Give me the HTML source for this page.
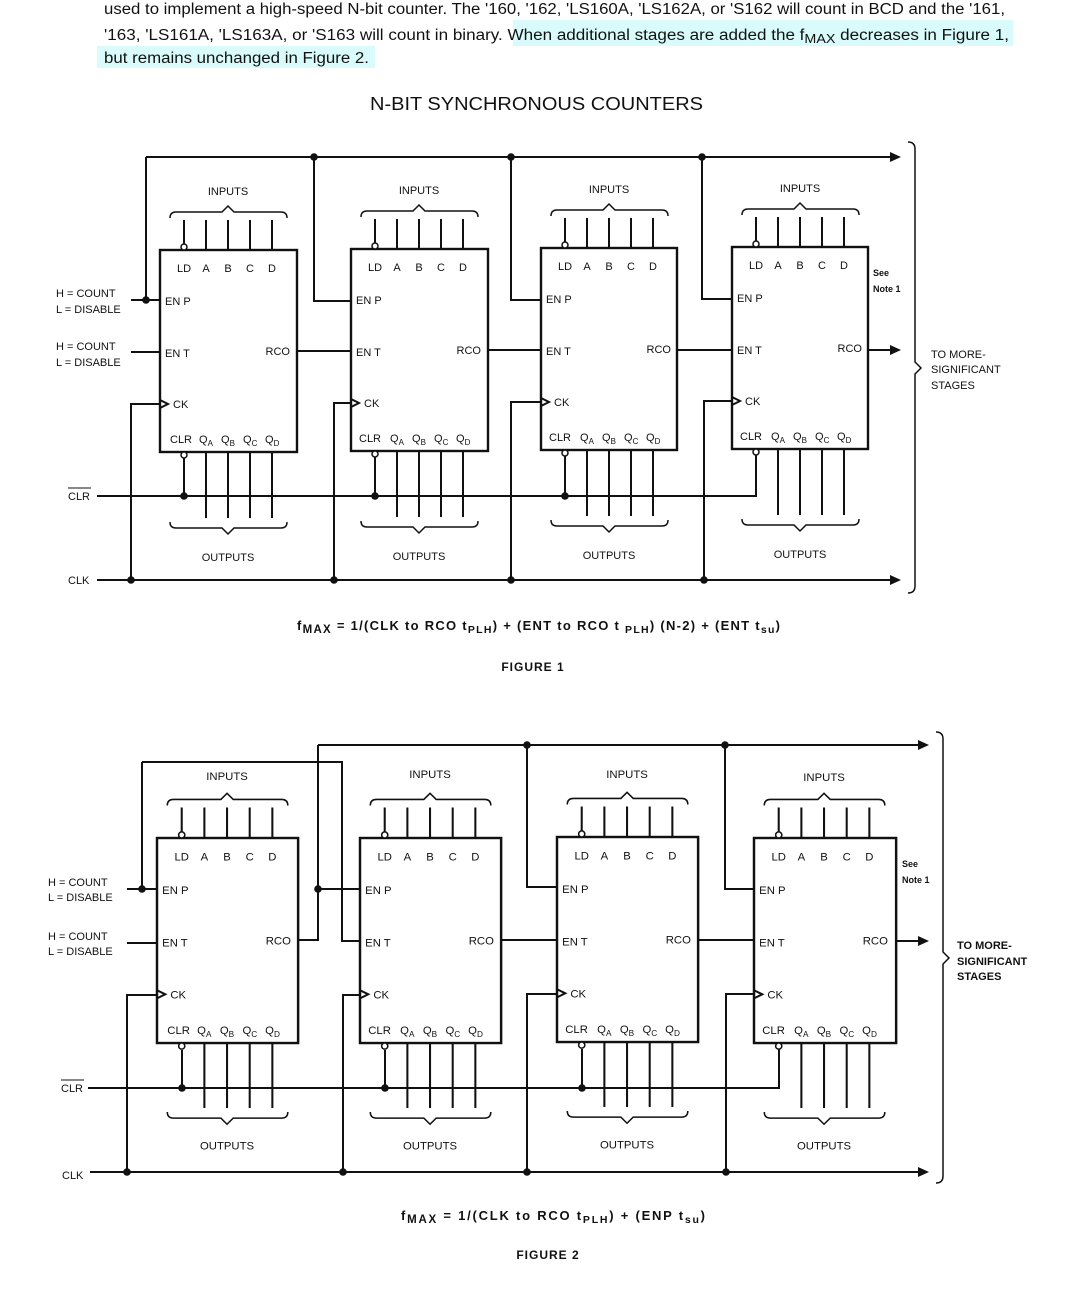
<!DOCTYPE html>
<html><head><meta charset="utf-8"><style>
html,body{margin:0;padding:0;background:#fff;}
svg{display:block;}
text{font-family:"Liberation Sans",sans-serif;fill:#111;}
.w{stroke:#111;stroke-width:2;fill:none;}
.b{stroke:#111;stroke-width:2.4;fill:none;}
.br{stroke:#111;stroke-width:1.5;fill:none;}
.t{font-size:11px;}
.s{font-size:8px;}
</style></head><body>
<svg width="1084" height="1295" viewBox="0 0 1084 1295" xmlns="http://www.w3.org/2000/svg">
<rect x="513" y="20" width="500" height="26" fill="#d9fbfb"/>
<rect x="97" y="46" width="278" height="22" fill="#d9fbfb"/>
<text x="104" y="14" font-size="15.5" textLength="901" lengthAdjust="spacingAndGlyphs">used to implement a high-speed N-bit counter. The '160, '162, 'LS160A, 'LS162A, or 'S162 will count in BCD and the '161,</text>
<text x="104" y="40" font-size="15.5" textLength="905" lengthAdjust="spacingAndGlyphs">'163, 'LS161A, 'LS163A, or 'S163 will count in binary. When additional stages are added the f<tspan font-size="13" dy="3">MAX</tspan><tspan dy="-3"> decreases in Figure 1,</tspan></text>
<text x="104" y="63" font-size="15.5" textLength="265" lengthAdjust="spacingAndGlyphs">but remains unchanged in Figure 2.</text>
<text x="370" y="110" font-size="18" textLength="333" lengthAdjust="spacingAndGlyphs">N-BIT SYNCHRONOUS COUNTERS</text>

<g transform="translate(160,250)">
<rect x="0" y="0" width="137" height="202" class="b"/>
<path class="w" d="M24 -30V-6 M46 -30V0 M68 -30V0 M90 -30V0 M112 -30V0 M46 202V268 M68 202V268 M90 202V268 M112 202V268"/>
<circle cx="24" cy="-3" r="3" fill="#fff" stroke="#111" stroke-width="1.5"/>
<circle cx="24" cy="205" r="3" fill="#fff" stroke="#111" stroke-width="1.5"/>
<path class="br" d="M10 -32 q0 -6 6 -6 H62 l6 -6 l6 6 H121 q6 0 6 6 M10 272 q0 6 6 6 H62 l6 6 l6 -6 H121 q6 0 6 -6"/>
<path class="w" d="M0 150 L8 154 L0 158"/>
<text x="68" y="-55" class="t" text-anchor="middle">INPUTS</text>
<text x="24" y="22" class="t" text-anchor="middle">LD</text><text x="46" y="22" class="t" text-anchor="middle">A</text><text x="68" y="22" class="t" text-anchor="middle">B</text><text x="90" y="22" class="t" text-anchor="middle">C</text><text x="112" y="22" class="t" text-anchor="middle">D</text>
<text x="5" y="55" class="t">EN P</text><text x="5" y="107" class="t">EN T</text><text x="130" y="105" class="t" text-anchor="end">RCO</text><text x="13" y="158" class="t">CK</text>
<text x="10" y="193" class="t">CLR</text>
<text x="39" y="193" class="t">Q<tspan class="s" dy="3">A</tspan></text><text x="61" y="193" class="t">Q<tspan class="s" dy="3">B</tspan></text><text x="83" y="193" class="t">Q<tspan class="s" dy="3">C</tspan></text><text x="105" y="193" class="t">Q<tspan class="s" dy="3">D</tspan></text>
<text x="68" y="311" class="t" text-anchor="middle">OUTPUTS</text>
</g>
<g transform="translate(351,249)">
<rect x="0" y="0" width="137" height="202" class="b"/>
<path class="w" d="M24 -30V-6 M46 -30V0 M68 -30V0 M90 -30V0 M112 -30V0 M46 202V268 M68 202V268 M90 202V268 M112 202V268"/>
<circle cx="24" cy="-3" r="3" fill="#fff" stroke="#111" stroke-width="1.5"/>
<circle cx="24" cy="205" r="3" fill="#fff" stroke="#111" stroke-width="1.5"/>
<path class="br" d="M10 -32 q0 -6 6 -6 H62 l6 -6 l6 6 H121 q6 0 6 6 M10 272 q0 6 6 6 H62 l6 6 l6 -6 H121 q6 0 6 -6"/>
<path class="w" d="M0 150 L8 154 L0 158"/>
<text x="68" y="-55" class="t" text-anchor="middle">INPUTS</text>
<text x="24" y="22" class="t" text-anchor="middle">LD</text><text x="46" y="22" class="t" text-anchor="middle">A</text><text x="68" y="22" class="t" text-anchor="middle">B</text><text x="90" y="22" class="t" text-anchor="middle">C</text><text x="112" y="22" class="t" text-anchor="middle">D</text>
<text x="5" y="55" class="t">EN P</text><text x="5" y="107" class="t">EN T</text><text x="130" y="105" class="t" text-anchor="end">RCO</text><text x="13" y="158" class="t">CK</text>
<text x="8" y="193" class="t">CLR</text>
<text x="39" y="193" class="t">Q<tspan class="s" dy="3">A</tspan></text><text x="61" y="193" class="t">Q<tspan class="s" dy="3">B</tspan></text><text x="83" y="193" class="t">Q<tspan class="s" dy="3">C</tspan></text><text x="105" y="193" class="t">Q<tspan class="s" dy="3">D</tspan></text>
<text x="68" y="311" class="t" text-anchor="middle">OUTPUTS</text>
</g>
<g transform="translate(541,248)">
<rect x="0" y="0" width="136" height="202" class="b"/>
<path class="w" d="M24 -30V-6 M46 -30V0 M68 -30V0 M90 -30V0 M112 -30V0 M46 202V268 M68 202V268 M90 202V268 M112 202V268"/>
<circle cx="24" cy="-3" r="3" fill="#fff" stroke="#111" stroke-width="1.5"/>
<circle cx="24" cy="205" r="3" fill="#fff" stroke="#111" stroke-width="1.5"/>
<path class="br" d="M10 -32 q0 -6 6 -6 H62 l6 -6 l6 6 H121 q6 0 6 6 M10 272 q0 6 6 6 H62 l6 6 l6 -6 H121 q6 0 6 -6"/>
<path class="w" d="M0 150 L8 154 L0 158"/>
<text x="68" y="-55" class="t" text-anchor="middle">INPUTS</text>
<text x="24" y="22" class="t" text-anchor="middle">LD</text><text x="46" y="22" class="t" text-anchor="middle">A</text><text x="68" y="22" class="t" text-anchor="middle">B</text><text x="90" y="22" class="t" text-anchor="middle">C</text><text x="112" y="22" class="t" text-anchor="middle">D</text>
<text x="5" y="55" class="t">EN P</text><text x="5" y="107" class="t">EN T</text><text x="130" y="105" class="t" text-anchor="end">RCO</text><text x="13" y="158" class="t">CK</text>
<text x="8" y="193" class="t">CLR</text>
<text x="39" y="193" class="t">Q<tspan class="s" dy="3">A</tspan></text><text x="61" y="193" class="t">Q<tspan class="s" dy="3">B</tspan></text><text x="83" y="193" class="t">Q<tspan class="s" dy="3">C</tspan></text><text x="105" y="193" class="t">Q<tspan class="s" dy="3">D</tspan></text>
<text x="68" y="311" class="t" text-anchor="middle">OUTPUTS</text>
</g>
<g transform="translate(732,247)">
<rect x="0" y="0" width="136" height="202" class="b"/>
<path class="w" d="M24 -30V-6 M46 -30V0 M68 -30V0 M90 -30V0 M112 -30V0 M46 202V268 M68 202V268 M90 202V268 M112 202V268"/>
<circle cx="24" cy="-3" r="3" fill="#fff" stroke="#111" stroke-width="1.5"/>
<circle cx="24" cy="205" r="3" fill="#fff" stroke="#111" stroke-width="1.5"/>
<path class="br" d="M10 -32 q0 -6 6 -6 H62 l6 -6 l6 6 H121 q6 0 6 6 M10 272 q0 6 6 6 H62 l6 6 l6 -6 H121 q6 0 6 -6"/>
<path class="w" d="M0 150 L8 154 L0 158"/>
<text x="68" y="-55" class="t" text-anchor="middle">INPUTS</text>
<text x="24" y="22" class="t" text-anchor="middle">LD</text><text x="46" y="22" class="t" text-anchor="middle">A</text><text x="68" y="22" class="t" text-anchor="middle">B</text><text x="90" y="22" class="t" text-anchor="middle">C</text><text x="112" y="22" class="t" text-anchor="middle">D</text>
<text x="5" y="55" class="t">EN P</text><text x="5" y="107" class="t">EN T</text><text x="130" y="105" class="t" text-anchor="end">RCO</text><text x="13" y="158" class="t">CK</text>
<text x="8" y="193" class="t">CLR</text>
<text x="39" y="193" class="t">Q<tspan class="s" dy="3">A</tspan></text><text x="61" y="193" class="t">Q<tspan class="s" dy="3">B</tspan></text><text x="83" y="193" class="t">Q<tspan class="s" dy="3">C</tspan></text><text x="105" y="193" class="t">Q<tspan class="s" dy="3">D</tspan></text>
<text x="68" y="311" class="t" text-anchor="middle">OUTPUTS</text>
</g>

<path class="w" d="M146 157 H892 M146 157 V300 M131 300 H160 M314 157 V301 H351 M511 157 V300 H541 M702 157 V299 H732
M131 352 H160 M297 351 H351 M488 350 H541 M677 350 H732 M868 350 H892
M97 580 H892 M131 580 V404 H160 M334 580 V403 H351 M511 580 V402 H541 M704 580 V401 H732
M97 496 H756 V455 M184 458 V496 M375 457 V496 M565 456 V496"/>
<polygon points="890,152 901,157 890,162" fill="#111"/>
<polygon points="890,345 901,350 890,355" fill="#111"/>
<polygon points="890,575 901,580 890,585" fill="#111"/>
<g fill="#111">
<circle cx="146" cy="300" r="3.8"/><circle cx="314" cy="157" r="3.8"/><circle cx="511" cy="157" r="3.8"/><circle cx="702" cy="157" r="3.8"/>
<circle cx="131" cy="580" r="3.8"/><circle cx="334" cy="580" r="3.8"/><circle cx="511" cy="580" r="3.8"/><circle cx="704" cy="580" r="3.8"/>
<circle cx="184" cy="496" r="3.8"/><circle cx="375" cy="496" r="3.8"/><circle cx="565" cy="496" r="3.8"/>
</g>
<path class="br" d="M908 142 q7 0 7 7 V362 l6 6 l-6 6 V586 q0 7 -7 7"/>
<text x="931" y="358" class="t">TO MORE-</text><text x="931" y="373" class="t">SIGNIFICANT</text><text x="931" y="389" class="t">STAGES</text>
<text x="873" y="276" font-size="9" font-weight="bold">See</text><text x="873" y="292" font-size="9" font-weight="bold">Note 1</text>
<text x="56" y="297" class="t">H = COUNT</text><text x="56" y="313" class="t">L = DISABLE</text>
<text x="56" y="350" class="t">H = COUNT</text><text x="56" y="366" class="t">L = DISABLE</text>
<text x="68" y="500" class="t">CLR</text><path d="M68 488 H91" stroke="#111" stroke-width="1"/>
<text x="68" y="584" class="t">CLK</text>
<text x="297" y="630" font-size="13" font-weight="bold" textLength="483" lengthAdjust="spacing">f<tspan font-size="11.5" dy="3">MAX</tspan><tspan dy="-3"> = 1/(CLK to RCO t</tspan><tspan font-size="10.5" dy="3">PLH</tspan><tspan dy="-3">) + (ENT to RCO t </tspan><tspan font-size="10.5" dy="3">PLH</tspan><tspan dy="-3">) (N-2) + (ENT t</tspan><tspan font-size="10.5" dy="3">su</tspan><tspan dy="-3">)</tspan></text>
<text x="533" y="671" font-size="12" font-weight="bold" text-anchor="middle" letter-spacing="1">FIGURE 1</text>

<g transform="translate(157,838) scale(1.03,1.015)">
<rect x="0" y="0" width="137" height="202" class="b"/>
<path class="w" d="M24 -30V-6 M46 -30V0 M68 -30V0 M90 -30V0 M112 -30V0 M46 202V266 M68 202V266 M90 202V266 M112 202V266"/>
<circle cx="24" cy="-3" r="3" fill="#fff" stroke="#111" stroke-width="1.5"/>
<circle cx="24" cy="205" r="3" fill="#fff" stroke="#111" stroke-width="1.5"/>
<path class="br" d="M10 -32 q0 -6 6 -6 H62 l6 -6 l6 6 H121 q6 0 6 6 M10 270 q0 6 6 6 H62 l6 6 l6 -6 H121 q6 0 6 -6"/>
<path class="w" d="M0 150 L8 154 L0 158"/>
<text x="68" y="-57" class="t" text-anchor="middle">INPUTS</text>
<text x="24" y="22" class="t" text-anchor="middle">LD</text><text x="46" y="22" class="t" text-anchor="middle">A</text><text x="68" y="22" class="t" text-anchor="middle">B</text><text x="90" y="22" class="t" text-anchor="middle">C</text><text x="112" y="22" class="t" text-anchor="middle">D</text>
<text x="5" y="55" class="t">EN P</text><text x="5" y="107" class="t">EN T</text><text x="130" y="105" class="t" text-anchor="end">RCO</text><text x="13" y="158" class="t">CK</text>
<text x="10" y="193" class="t">CLR</text>
<text x="39" y="193" class="t">Q<tspan class="s" dy="3">A</tspan></text><text x="61" y="193" class="t">Q<tspan class="s" dy="3">B</tspan></text><text x="83" y="193" class="t">Q<tspan class="s" dy="3">C</tspan></text><text x="105" y="193" class="t">Q<tspan class="s" dy="3">D</tspan></text>
<text x="68" y="307" class="t" text-anchor="middle">OUTPUTS</text>
</g>
<g transform="translate(360,838) scale(1.03,1.015)">
<rect x="0" y="0" width="137" height="202" class="b"/>
<path class="w" d="M24 -30V-6 M46 -30V0 M68 -30V0 M90 -30V0 M112 -30V0 M46 202V266 M68 202V266 M90 202V266 M112 202V266"/>
<circle cx="24" cy="-3" r="3" fill="#fff" stroke="#111" stroke-width="1.5"/>
<circle cx="24" cy="205" r="3" fill="#fff" stroke="#111" stroke-width="1.5"/>
<path class="br" d="M10 -32 q0 -6 6 -6 H62 l6 -6 l6 6 H121 q6 0 6 6 M10 270 q0 6 6 6 H62 l6 6 l6 -6 H121 q6 0 6 -6"/>
<path class="w" d="M0 150 L8 154 L0 158"/>
<text x="68" y="-59" class="t" text-anchor="middle">INPUTS</text>
<text x="24" y="22" class="t" text-anchor="middle">LD</text><text x="46" y="22" class="t" text-anchor="middle">A</text><text x="68" y="22" class="t" text-anchor="middle">B</text><text x="90" y="22" class="t" text-anchor="middle">C</text><text x="112" y="22" class="t" text-anchor="middle">D</text>
<text x="5" y="55" class="t">EN P</text><text x="5" y="107" class="t">EN T</text><text x="130" y="105" class="t" text-anchor="end">RCO</text><text x="13" y="158" class="t">CK</text>
<text x="8" y="193" class="t">CLR</text>
<text x="39" y="193" class="t">Q<tspan class="s" dy="3">A</tspan></text><text x="61" y="193" class="t">Q<tspan class="s" dy="3">B</tspan></text><text x="83" y="193" class="t">Q<tspan class="s" dy="3">C</tspan></text><text x="105" y="193" class="t">Q<tspan class="s" dy="3">D</tspan></text>
<text x="68" y="307" class="t" text-anchor="middle">OUTPUTS</text>
</g>
<g transform="translate(557,837) scale(1.03,1.015)">
<rect x="0" y="0" width="137" height="202" class="b"/>
<path class="w" d="M24 -30V-6 M46 -30V0 M68 -30V0 M90 -30V0 M112 -30V0 M46 202V266 M68 202V266 M90 202V266 M112 202V266"/>
<circle cx="24" cy="-3" r="3" fill="#fff" stroke="#111" stroke-width="1.5"/>
<circle cx="24" cy="205" r="3" fill="#fff" stroke="#111" stroke-width="1.5"/>
<path class="br" d="M10 -32 q0 -6 6 -6 H62 l6 -6 l6 6 H121 q6 0 6 6 M10 270 q0 6 6 6 H62 l6 6 l6 -6 H121 q6 0 6 -6"/>
<path class="w" d="M0 150 L8 154 L0 158"/>
<text x="68" y="-58" class="t" text-anchor="middle">INPUTS</text>
<text x="24" y="22" class="t" text-anchor="middle">LD</text><text x="46" y="22" class="t" text-anchor="middle">A</text><text x="68" y="22" class="t" text-anchor="middle">B</text><text x="90" y="22" class="t" text-anchor="middle">C</text><text x="112" y="22" class="t" text-anchor="middle">D</text>
<text x="5" y="55" class="t">EN P</text><text x="5" y="107" class="t">EN T</text><text x="130" y="105" class="t" text-anchor="end">RCO</text><text x="13" y="158" class="t">CK</text>
<text x="8" y="193" class="t">CLR</text>
<text x="39" y="193" class="t">Q<tspan class="s" dy="3">A</tspan></text><text x="61" y="193" class="t">Q<tspan class="s" dy="3">B</tspan></text><text x="83" y="193" class="t">Q<tspan class="s" dy="3">C</tspan></text><text x="105" y="193" class="t">Q<tspan class="s" dy="3">D</tspan></text>
<text x="68" y="307" class="t" text-anchor="middle">OUTPUTS</text>
</g>
<g transform="translate(754,838) scale(1.03,1.015)">
<rect x="0" y="0" width="138" height="202" class="b"/>
<path class="w" d="M24 -30V-6 M46 -30V0 M68 -30V0 M90 -30V0 M112 -30V0 M46 202V266 M68 202V266 M90 202V266 M112 202V266"/>
<circle cx="24" cy="-3" r="3" fill="#fff" stroke="#111" stroke-width="1.5"/>
<circle cx="24" cy="205" r="3" fill="#fff" stroke="#111" stroke-width="1.5"/>
<path class="br" d="M10 -32 q0 -6 6 -6 H62 l6 -6 l6 6 H121 q6 0 6 6 M10 270 q0 6 6 6 H62 l6 6 l6 -6 H121 q6 0 6 -6"/>
<path class="w" d="M0 150 L8 154 L0 158"/>
<text x="68" y="-56" class="t" text-anchor="middle">INPUTS</text>
<text x="24" y="22" class="t" text-anchor="middle">LD</text><text x="46" y="22" class="t" text-anchor="middle">A</text><text x="68" y="22" class="t" text-anchor="middle">B</text><text x="90" y="22" class="t" text-anchor="middle">C</text><text x="112" y="22" class="t" text-anchor="middle">D</text>
<text x="5" y="55" class="t">EN P</text><text x="5" y="107" class="t">EN T</text><text x="130" y="105" class="t" text-anchor="end">RCO</text><text x="13" y="158" class="t">CK</text>
<text x="8" y="193" class="t">CLR</text>
<text x="39" y="193" class="t">Q<tspan class="s" dy="3">A</tspan></text><text x="61" y="193" class="t">Q<tspan class="s" dy="3">B</tspan></text><text x="83" y="193" class="t">Q<tspan class="s" dy="3">C</tspan></text><text x="105" y="193" class="t">Q<tspan class="s" dy="3">D</tspan></text>
<text x="68" y="307" class="t" text-anchor="middle">OUTPUTS</text>
</g>

<path class="w" d="M318 745 H920 M142 762 H342 V941 H360 M142 762 V889 M127 889 H157 M298 940 H318 V745 M318 889 H360
M527 745 V887 H557 M725 745 V889 H754
M127 943 H157 M502 940 H557 M699 940 H754 M896 941 H920
M90 1172 H920 M127 1172 V995 H157 M343 1172 V995 H360 M527 1172 V994 H557 M726 1172 V994 H754
M88 1088 H779 V1049 M182 1050 V1088 M385 1050 V1088 M582 1049 V1088"/>
<polygon points="918,740 929,745 918,750" fill="#111"/>
<polygon points="918,936 929,941 918,946" fill="#111"/>
<polygon points="918,1167 929,1172 918,1177" fill="#111"/>
<g fill="#111">
<circle cx="142" cy="889" r="3.8"/><circle cx="318" cy="889" r="3.8"/><circle cx="527" cy="745" r="3.8"/><circle cx="725" cy="745" r="3.8"/>
<circle cx="127" cy="1172" r="3.8"/><circle cx="343" cy="1172" r="3.8"/><circle cx="527" cy="1172" r="3.8"/><circle cx="726" cy="1172" r="3.8"/>
<circle cx="182" cy="1088" r="3.8"/><circle cx="385" cy="1088" r="3.8"/><circle cx="582" cy="1088" r="3.8"/>
</g>
<path class="br" d="M936 732 q7 0 7 7 V952 l6 6 l-6 6 V1176 q0 7 -7 7"/>
<text x="957" y="949" class="t" font-weight="bold">TO MORE-</text><text x="957" y="965" class="t" font-weight="bold">SIGNIFICANT</text><text x="957" y="980" class="t" font-weight="bold">STAGES</text>
<text x="902" y="867" font-size="9" font-weight="bold">See</text><text x="902" y="883" font-size="9" font-weight="bold">Note 1</text>
<text x="48" y="886" class="t">H = COUNT</text><text x="48" y="901" class="t">L = DISABLE</text>
<text x="48" y="940" class="t">H = COUNT</text><text x="48" y="955" class="t">L = DISABLE</text>
<text x="61" y="1092" class="t">CLR</text><path d="M61 1080 H84" stroke="#111" stroke-width="1"/>
<text x="62" y="1179" class="t">CLK</text>
<text x="401" y="1220" font-size="13" font-weight="bold" textLength="304" lengthAdjust="spacing">f<tspan font-size="11.5" dy="3">MAX</tspan><tspan dy="-3"> = 1/(CLK to RCO t</tspan><tspan font-size="10.5" dy="3">PLH</tspan><tspan dy="-3">) + (ENP t</tspan><tspan font-size="10.5" dy="3">su</tspan><tspan dy="-3">)</tspan></text>
<text x="548" y="1259" font-size="12" font-weight="bold" text-anchor="middle" letter-spacing="1">FIGURE 2</text>
</svg>
</body></html>
